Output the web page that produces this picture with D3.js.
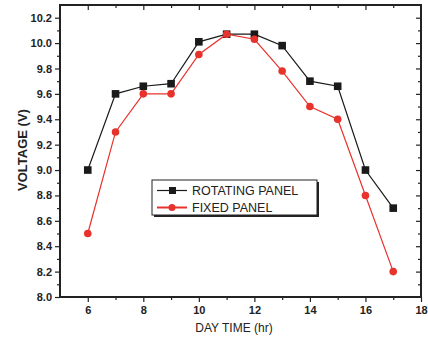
<!DOCTYPE html>
<html>
<head>
<meta charset="utf-8">
<script src="https://cdn.jsdelivr.net/npm/d3@7"></script>
<style>
  body { margin: 0; background: #fff; }
  svg text { font-family: "Liberation Sans", Arial, sans-serif; fill: #222; }
</style>
</head>
<body>
<div id="chart"></div>
<script>
var hours = [6, 7, 8, 9, 10, 11, 12, 13, 14, 15, 16, 17]
var rotating = [9.0, 9.6, 9.66, 9.68, 10.01, 10.07, 10.07, 9.98, 9.7, 9.66, 9.0, 8.7]
var fixed = [8.5, 9.3, 9.6, 9.6, 9.91, 10.07, 10.03, 9.78, 9.5, 9.4, 8.8, 8.2]

var xMajor = [6, 8, 10, 12, 14, 16, 18]
var xMinor = [7, 9, 11, 13, 15, 17]
var yMajor = [8.0, 8.2, 8.4, 8.6, 8.8, 9.0, 9.2, 9.4, 9.6, 9.8, 10.0, 10.2]
var yMinor = [8.1, 8.3, 8.5, 8.7, 8.9, 9.1, 9.3, 9.5, 9.7, 9.9, 10.1]

var seriesNames = ["ROTATING PANEL", "FIXED PANEL"]
var seriesColors = ["#1a1a1a", "#e8322c"]

const width = 428, height = 346
const plot = { left: 60, right: 421, top: 5, bottom: 297 }

const svg = d3.select("#chart")
    .append("svg")
        .attr("width", width)
        .attr("height", height)

const x = d3.scaleLinear().domain([5, 18]).range([plot.left, plot.right])
const y = d3.scaleLinear().domain([8.0, 10.3]).range([plot.bottom, plot.top])

// bottom axis: labelled majors, outward ticks
const bottomAxis = svg.append("g")
    .attr("transform", `translate(0, ${plot.bottom})`)
    .call(d3.axisBottom(x).tickValues(xMajor).tickSize(5).tickPadding(4).tickFormat(d3.format("d")))
bottomAxis.append("g")
    .call(d3.axisBottom(x).tickValues(xMinor).tickSize(3).tickFormat(""))

// left axis
const leftAxis = svg.append("g")
    .attr("transform", `translate(${plot.left}, 0)`)
    .call(d3.axisLeft(y).tickValues(yMajor).tickSize(5).tickPadding(3).tickFormat(d3.format(".1f")))
leftAxis.append("g")
    .call(d3.axisLeft(y).tickValues(yMinor).tickSize(3).tickFormat(""))

// top and right: inward ticks, no labels
const topAxis = svg.append("g")
    .attr("transform", `translate(0, ${plot.top})`)
topAxis.append("g").call(d3.axisBottom(x).tickValues(xMajor.slice(0, -1)).tickSize(5).tickFormat(""))
topAxis.append("g").call(d3.axisBottom(x).tickValues(xMinor).tickSize(3).tickFormat(""))

const rightAxis = svg.append("g")
    .attr("transform", `translate(${plot.right}, 0)`)
rightAxis.append("g").call(d3.axisLeft(y).tickValues(yMajor.slice(1)).tickSize(5).tickFormat(""))
rightAxis.append("g").call(d3.axisLeft(y).tickValues(yMinor).tickSize(3).tickFormat(""))

svg.selectAll(".domain").remove()
svg.selectAll(".tick line").attr("stroke", "#222").attr("stroke-width", 1.2)
svg.selectAll(".tick text")
    .attr("font-size", 11)
    .attr("font-weight", "bold")
    .attr("fill", "#222")

// frame
svg.append("rect")
    .attr("x", plot.left)
    .attr("y", plot.top)
    .attr("width", plot.right - plot.left)
    .attr("height", plot.bottom - plot.top)
    .attr("fill", "none")
    .attr("stroke", "#222")
    .attr("stroke-width", 2)

// axis titles
svg.append("text")
    .attr("x", 234)
    .attr("y", 332)
    .attr("text-anchor", "middle")
    .attr("font-size", 12)
    .text("DAY TIME (hr)")

svg.append("text")
    .attr("transform", `translate(27, 150) rotate(-90)`)
    .attr("text-anchor", "middle")
    .attr("font-size", 13)
    .attr("font-weight", "bold")
    .text("VOLTAGE (V)")

// series
const line = d3.line().x((d, i) => x(hours[i])).y(d => y(d))

function drawSeries(values, color, shape) {
    svg.append("path")
        .datum(values)
        .attr("fill", "none")
        .attr("stroke", color)
        .attr("stroke-width", 1.2)
        .attr("d", line)
    if (shape == "square") {
        svg.append("g").selectAll("rect")
            .data(values)
            .enter().append("rect")
                .attr("x", (d, i) => x(hours[i]) - 3.8)
                .attr("y", d => y(d) - 3.8)
                .attr("width", 7.6)
                .attr("height", 7.6)
                .attr("fill", color)
    } else {
        svg.append("g").selectAll("circle")
            .data(values)
            .enter().append("circle")
                .attr("cx", (d, i) => x(hours[i]))
                .attr("cy", d => y(d))
                .attr("r", 3.8)
                .attr("fill", color)
    }
}

drawSeries(rotating, seriesColors[0], "square")
drawSeries(fixed, seriesColors[1], "circle")

// legend
const legend = svg.append("g")
legend.append("rect")
    .attr("x", 154)
    .attr("y", 182)
    .attr("width", 165)
    .attr("height", 35)
    .attr("fill", "#222")
legend.append("rect")
    .attr("x", 152)
    .attr("y", 180)
    .attr("width", 165)
    .attr("height", 35)
    .attr("fill", "#fff")
    .attr("stroke", "#222")
    .attr("stroke-width", 1)

seriesNames.forEach((name, i) => {
    const ly = 190.5 + i * 17
    legend.append("line")
        .attr("x1", 157).attr("x2", 187)
        .attr("y1", ly).attr("y2", ly)
        .attr("stroke", seriesColors[i])
        .attr("stroke-width", i == 0 ? 1.2 : 2)
    if (i == 0) {
        legend.append("rect")
            .attr("x", 169).attr("y", ly - 3.5)
            .attr("width", 7).attr("height", 7)
            .attr("fill", seriesColors[i])
    } else {
        legend.append("circle")
            .attr("cx", 172).attr("cy", ly).attr("r", 3.5)
            .attr("fill", seriesColors[i])
    }
    legend.append("text")
        .attr("x", 192)
        .attr("y", ly + 4.5)
        .attr("font-size", 12.5)
        .text(name)
})
</script>
</body>
</html>
